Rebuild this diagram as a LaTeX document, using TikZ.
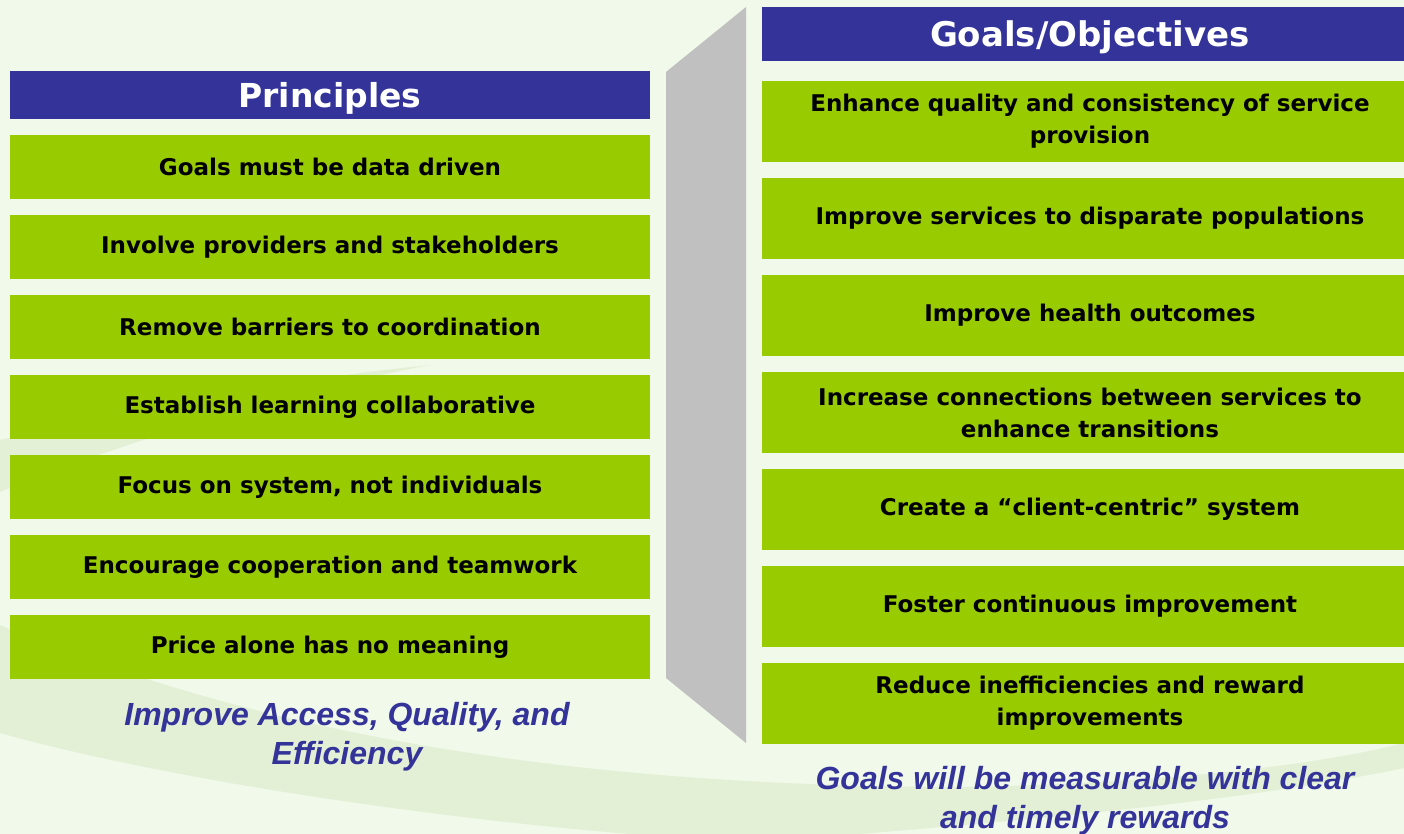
\documentclass[tikz,border=0pt]{standalone}
\usepackage{fontspec}
\setmainfont{DejaVu Sans}
\newfontfamily\capfont{Liberation Sans}
\usetikzlibrary{positioning}

\definecolor{headblue}{HTML}{333399}
\definecolor{itemgreen}{HTML}{99CC00}
\definecolor{bargray}{HTML}{C0C0C0}
\definecolor{bgc}{HTML}{F1F9EA}
\definecolor{swoosh}{HTML}{E3F0D6}

\begin{document}
\begin{tikzpicture}[x=0.5pt, y=-0.5pt, node distance=8pt]
        \tikzstyle{head} = [rectangle, fill=headblue, text=white, font=\fontsize{16.5}{18}\selectfont\bfseries, text depth=0pt, inner sep=0pt, outer sep=0pt]
        \tikzstyle{item} = [rectangle, fill=itemgreen, text=black, font=\fontsize{11.5}{16}\selectfont\bfseries, align=center, inner sep=0pt, outer sep=0pt]
        \tikzstyle{pitem} = [item, minimum width=320pt, minimum height=32pt]
        \tikzstyle{gitem} = [item, minimum width=328pt, minimum height=40.5pt]
        \tikzstyle{caption} = [text=headblue, font=\capfont\fontsize{16}{19.5}\selectfont\bfseries\itshape, align=center]

        % background and swooshes
        \useasboundingbox (0,0) rectangle (1404,834);
        \clip (0,0) rectangle (1404,834);
        \fill[bgc] (0,0) rectangle (1404,834);
        \fill[swoosh] (0,440) .. controls (150,405) and (300,378) .. (430,365) .. controls (300,390) and (150,432) .. (0,492) -- cycle;
        \fill[swoosh] (0,625) .. controls (250,730) and (550,785) .. (950,787) .. controls (1150,785) and (1320,765) .. (1404,743) -- (1404,768) .. controls (1250,800) and (1050,818) .. (860,834) -- (630,834) .. controls (400,815) and (150,775) .. (0,733) -- cycle;

        % connector bar
        \fill[bargray] (666,72) -- (746,7) -- (746,743) -- (666,678) -- cycle;

        % principles
        \node (princ) [head, minimum width=320pt, minimum height=24pt] at (330,95) {Principles};
        \node (p1) [pitem, below=of princ] {Goals must be data driven};
        \node (p2) [pitem, below=of p1] {Involve providers and stakeholders};
        \node (p3) [pitem, below=of p2] {Remove barriers to coordination};
        \node (p4) [pitem, below=of p3] {Establish learning collaborative};
        \node (p5) [pitem, below=of p4] {Focus on system, not individuals};
        \node (p6) [pitem, below=of p5] {Encourage cooperation and teamwork};
        \node (p7) [pitem, below=of p6] {Price alone has no meaning};
        \node (pcap) [caption] at (347,737) {Improve Access, Quality, and\\Efficiency};

        % goals
        \node (goals) [head, minimum width=328pt, minimum height=27pt, font=\fontsize{17}{18}\selectfont\bfseries] at (1090,34) {Goals/Objectives};
        \node (g1) [gitem, below=10pt of goals] {Enhance quality and consistency of service\\provision};
        \node (g2) [gitem, below=of g1] {Improve services to disparate populations};
        \node (g3) [gitem, below=of g2] {Improve health outcomes};
        \node (g4) [gitem, below=of g3] {Increase connections between services to\\enhance transitions};
        \node (g5) [gitem, below=of g4] {Create a “client-centric” system};
        \node (g6) [gitem, below=of g5] {Foster continuous improvement};
        \node (g7) [gitem, below=of g6] {Reduce inefficiencies and reward\\improvements};
        \node (gcap) [caption] at (1085,801) {Goals will be measurable with clear\\and timely rewards};
    \end{tikzpicture}
\end{document}
